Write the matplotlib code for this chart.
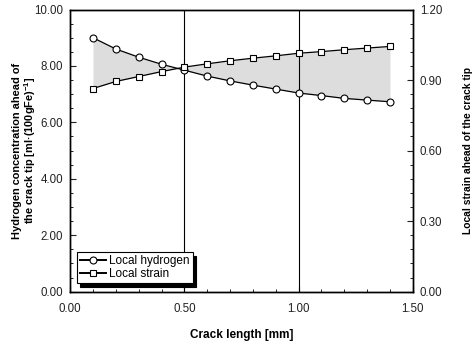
import matplotlib
matplotlib.use("Agg")
import matplotlib.pyplot as plt
from matplotlib.ticker import MultipleLocator, FormatStrFormatter
import numpy as np

plt.rcParams['font.family'] = ['Liberation Sans', 'DejaVu Sans']
plt.rcParams['mathtext.default'] = 'regular'

crack_length = [0.1, 0.2, 0.3, 0.4, 0.5, 0.6, 0.7, 0.8, 0.9, 1.0, 1.1, 1.2, 1.3, 1.4]
local_hydrogen = [9.00, 8.60, 8.31, 8.06, 7.85, 7.64, 7.47, 7.32, 7.18, 7.04, 6.95, 6.85, 6.79, 6.73]
local_strain = [0.864, 0.894, 0.915, 0.936, 0.955, 0.969, 0.982, 0.993, 1.003, 1.014, 1.021, 1.029, 1.036, 1.043]
vlines_at = [0.5, 1.0]

fig = plt.figure(figsize=(4.74, 3.46), dpi=100)
ax = fig.add_axes([0.148, 0.157, 0.723, 0.8155])
ax2 = ax.twinx()

ax.set_xlim(0, 1.5)
ax.set_ylim(0, 10)
ax2.set_ylim(0, 1.2)

strain_scaled = np.array(local_strain) * 10 / 1.2
ax.fill_between(crack_length, local_hydrogen, strain_scaled, color='#dddddd', lw=0, zorder=1)
for v in vlines_at:
    ax.axvline(v, color='black', lw=0.8, zorder=2)

l1, = ax.plot(crack_length, local_hydrogen, '-o', color='black', lw=0.9, ms=5,
              mfc='white', mec='black', mew=0.8, zorder=4, label='Local hydrogen')
l2, = ax2.plot(crack_length, local_strain, '-s', color='black', lw=0.9, ms=5,
               mfc='white', mec='black', mew=0.8, zorder=4, label='Local strain')

ax.xaxis.set_major_locator(MultipleLocator(0.5))
ax.xaxis.set_minor_locator(MultipleLocator(0.1))
ax.yaxis.set_major_locator(MultipleLocator(2))
ax.yaxis.set_minor_locator(MultipleLocator(0.5))
ax2.yaxis.set_major_locator(MultipleLocator(0.3))
ax2.yaxis.set_minor_locator(MultipleLocator(0.06))
ax.xaxis.set_major_formatter(FormatStrFormatter('%.2f'))
ax.yaxis.set_major_formatter(FormatStrFormatter('%.2f'))
ax2.yaxis.set_major_formatter(FormatStrFormatter('%.2f'))

for a in (ax, ax2):
    a.tick_params(which='major', direction='in', length=4, width=0.8, labelsize=8.3, colors='#222222')
    a.tick_params(which='minor', direction='in', length=2.5, width=0.6)
    for s in a.spines.values():
        s.set_linewidth(1.0)
ax.tick_params(axis='x', pad=8)
ax.tick_params(axis='y', pad=5)
ax2.tick_params(axis='y', pad=5)

ax.set_xlabel('Crack length [mm]', fontsize=8.5, fontweight='bold', labelpad=10)
ax.set_ylabel('Hydrogen concentration ahead of\nthe crack tip [ml·(100gFe)$^{-1}$]',
              fontsize=7.9, fontweight='bold', linespacing=1.05, labelpad=-3)
ax2.set_ylabel('Local strain ahead of the crack tip', fontsize=7.4, fontweight='bold', labelpad=15)

ax2.set_zorder(ax.get_zorder() + 1)
ax2.patch.set_visible(False)

leg = ax2.legend([l1, l2], ['Local hydrogen', 'Local strain'], loc='lower left',
                 bbox_to_anchor=(0.02, 0.03), fontsize=8.5, frameon=True, fancybox=False,
                 shadow={'color': 'black', 'alpha': 1.0, 'ox': 2.5, 'oy': -2.5},
                 borderpad=0.25, labelspacing=0.1, handlelength=2.2, handletextpad=0.3,
                 borderaxespad=0)
leg.get_frame().set_edgecolor('black')
leg.get_frame().set_linewidth(0.8)
leg.get_frame().set_alpha(1)
for h in leg.legend_handles:
    h.set_linewidth(1.4)

fig.savefig('out.png', dpi=100)
